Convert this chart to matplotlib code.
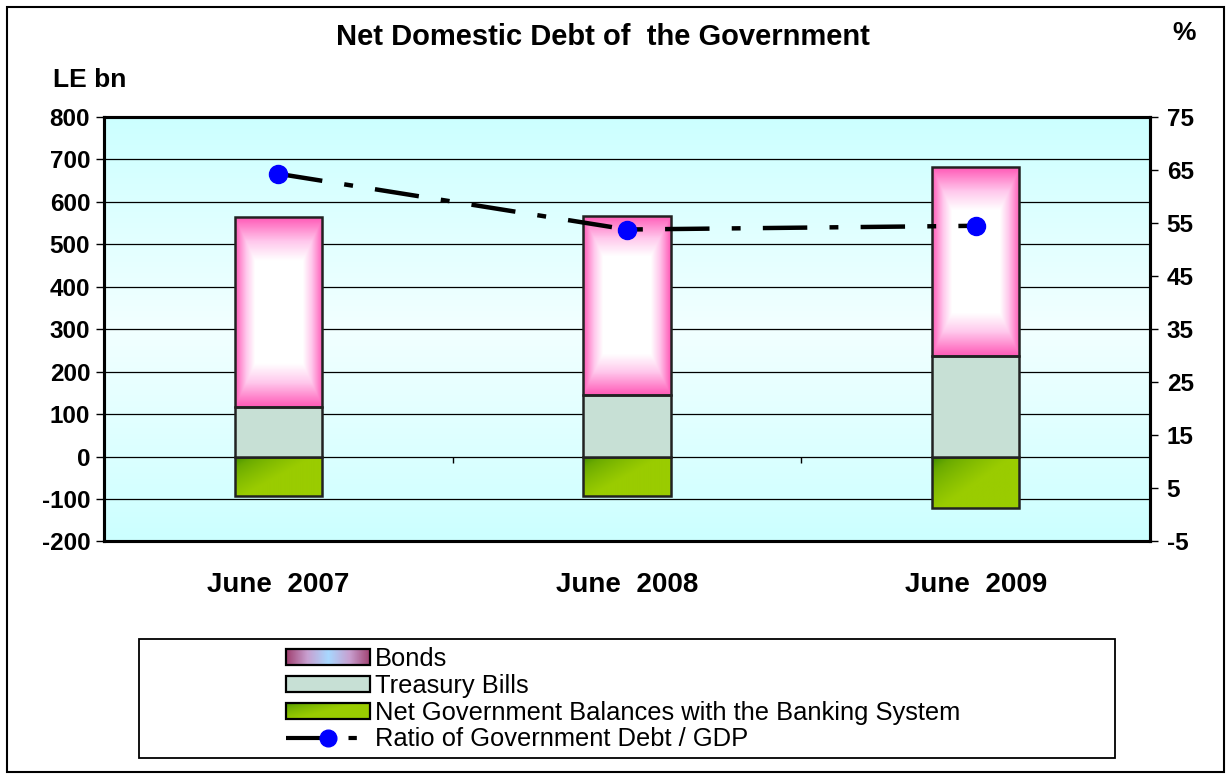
import numpy as np
import matplotlib.pyplot as plt
from matplotlib.colors import LinearSegmentedColormap, Normalize
from matplotlib.patches import Rectangle, Patch
from matplotlib.lines import Line2D
from matplotlib.legend_handler import HandlerBase
from matplotlib.image import BboxImage
from matplotlib.transforms import Bbox, TransformedBbox

plt.rcParams["font.family"] = ["Liberation Sans", "DejaVu Sans"]
plt.rcParams["axes.unicode_minus"] = False

# LE bn, end of June
periods = ["June  2007", "June  2008", "June  2009"]
net_balances = [-92, -92, -120]
treasury_bills = [118, 144, 238]
bonds = [446, 424, 444]
# percent of GDP
debt_to_gdp = [64.3, 53.8, 54.5]

x = np.arange(len(periods))
bar_w = 0.25

pink_cmap = LinearSegmentedColormap.from_list(
    "bonds", [(0, "white"), (0.55, "white"), (0.75, "#ffc8ec"), (1, "#ff5cb8")])
green_cmap = LinearSegmentedColormap.from_list(
    "bal", [(0, "#2c8200"), (0.45, "#6aaa00"), (1, "#9acc00")])
bonds_key_cmap = LinearSegmentedColormap.from_list(
    "bonds_key", [(0, "#a8d8ff"), (0.5, "#c8a0d0"), (1, "#a04070")])

u = np.linspace(0, 1, 120)
U, V = np.meshgrid(u, u)
frame_grad = np.maximum(np.abs(U - 0.5) / 0.5, np.abs(V - 0.5) / 0.5)
diag_grad = np.clip(U * 1.1 + V * 0.9, 0, 1) ** 0.6
key_grad = np.abs(U - 0.5) / 0.5


class GradientKey(HandlerBase):
    """Legend key filled with an image gradient."""

    def __init__(self, grad, cmap):
        super().__init__()
        self.grad = grad
        self.cmap = cmap

    def create_artists(self, legend, orig_handle, xdescent, ydescent, width,
                       height, fontsize, trans):
        box = Bbox.from_bounds(-xdescent, -ydescent, width, height)
        img = BboxImage(TransformedBbox(box, trans), cmap=self.cmap,
                        norm=Normalize(0, 1), interpolation="bilinear")
        img.set_data(self.grad)
        rect = Rectangle((-xdescent, -ydescent), width, height, fill=False,
                         edgecolor="black", linewidth=1.6, transform=trans)
        return [img, rect]


fig = plt.figure(figsize=(12.27, 7.74), dpi=100)
fig.patch.set_facecolor("white")
fig.patches.append(Rectangle((0.0057, 0.003), 0.9915, 0.988, transform=fig.transFigure,
                             fill=False, edgecolor="black", linewidth=1.5))

ax = fig.add_axes([0.0848, 0.3004, 0.8525, 0.5484])

# plot-area background: cyan at the edges, lighter in the middle
bg = np.abs(np.linspace(-1, 1, 200))[:, None]
bg_cmap = LinearSegmentedColormap.from_list("bg", ["#f2ffff", "#ccffff"])
ax.imshow(bg, cmap=bg_cmap, aspect="auto", extent=(-0.5, 2.5, -200, 800),
          zorder=0, vmin=0, vmax=1)
ax.set_yticks(np.arange(-200, 801, 100))
ax.grid(axis="y", color="black", linewidth=0.9, zorder=1)
ax.set_axisbelow(True)


def gradient_bar(xc, bottom, height, grad, cmap):
    lo, hi = min(bottom, bottom + height), max(bottom, bottom + height)
    rect = Rectangle((xc - bar_w / 2, lo), bar_w, hi - lo, facecolor="none",
                     edgecolor="#222222", linewidth=1.8, zorder=4)
    ax.add_patch(rect)
    img = ax.imshow(grad, cmap=cmap, vmin=0, vmax=1, aspect="auto", origin="upper",
                    extent=(xc - bar_w / 2, xc + bar_w / 2, lo, hi),
                    zorder=3, interpolation="bilinear")
    img.set_clip_path(rect)


for i in range(len(periods)):
    gradient_bar(x[i], 0, net_balances[i], diag_grad, green_cmap)
    ax.bar(x[i], treasury_bills[i], bar_w, color="#c7e0d5", edgecolor="#222222",
           linewidth=1.8, zorder=4)
    gradient_bar(x[i], treasury_bills[i], bonds[i], frame_grad, pink_cmap)

# category separators on the zero line
ax.vlines(x[:-1] + 0.5, -14, 0, color="black", linewidth=1, zorder=2)

ax.set_xlim(-0.5, 2.5)
ax.set_ylim(-200, 800)
ax.set_xticks(x)
ax.set_xticklabels(periods, fontsize=20, fontweight="bold")
ax.tick_params(axis="x", length=0, pad=22)
ax.tick_params(axis="y", labelsize=17.5, length=6, width=1, direction="out", pad=4)
for lab in ax.get_yticklabels():
    lab.set_fontweight("bold")
for s in ax.spines.values():
    s.set_linewidth(2.2)

ax2 = ax.twinx()
ax2.set_ylim(-5, 75)
ax2.set_yticks(np.arange(-5, 76, 10))
ax2.tick_params(axis="y", labelsize=17.5, length=6, width=1, pad=6)
for lab in ax2.get_yticklabels():
    lab.set_fontweight("bold")
ax2.plot(x, debt_to_gdp, color="black", linewidth=3.2, dashes=(10, 5, 2, 5),
         marker="o", markersize=13, markerfacecolor="#0000ff",
         markeredgecolor="#0000ff", zorder=6)
for s in ax2.spines.values():
    s.set_linewidth(2.2)

fig.text(0.491, 0.952, "Net Domestic Debt of  the Government", ha="center",
         va="center", fontsize=21, fontweight="bold")
fig.text(0.965, 0.957, "%", ha="center", va="center", fontsize=19, fontweight="bold")
fig.text(0.073, 0.896, "LE bn", ha="center", va="center", fontsize=19,
         fontweight="bold")

# legend box
fig.patches.append(Rectangle((0.1133, 0.0207), 0.7954, 0.1537, transform=fig.transFigure,
                             fill=False, edgecolor="black", linewidth=1.3))
bonds_key = Patch()
bal_key = Patch()
handles = [
    bonds_key,
    Patch(facecolor="#c7e0d5", edgecolor="black", linewidth=1.6),
    bal_key,
    Line2D([], [], color="black", linewidth=3, dashes=(10, 5, 2, 5), marker="o",
           markersize=12, markerfacecolor="#0000ff", markeredgecolor="#0000ff"),
]
labels = ["Bonds", "Treasury Bills", "Net Government Balances with the Banking System",
          "Ratio of Government Debt / GDP"]
fig.legend(handles, labels, loc="upper left", bbox_to_anchor=(0.233, 0.164),
           frameon=False, fontsize=18.4, handlelength=3.3, handleheight=0.6,
           labelspacing=0.11, handletextpad=0.2, borderaxespad=0, borderpad=0,
           handler_map={bonds_key: GradientKey(key_grad, bonds_key_cmap),
                        bal_key: GradientKey(diag_grad, green_cmap)})

fig.savefig("out.png", dpi=100)
